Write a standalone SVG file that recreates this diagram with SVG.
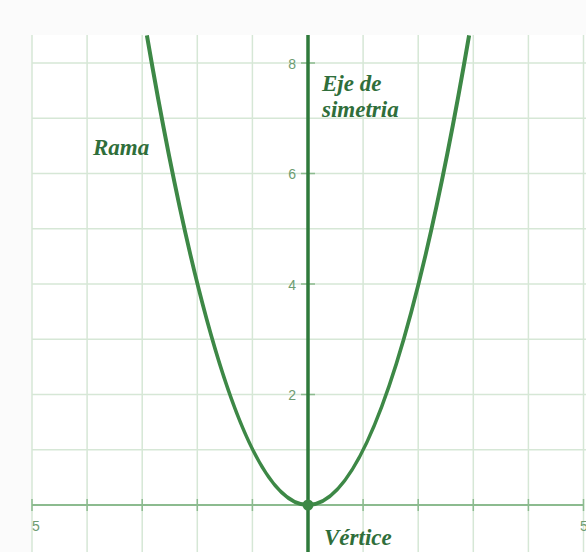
<svg xmlns="http://www.w3.org/2000/svg" width="586" height="552" viewBox="0 0 586 552">
<defs>
<style>
.grid{stroke:#d6e7d6;stroke-width:1.5;fill:none}
.xaxis{stroke:#8cbb8f;stroke-width:2;fill:none}
.yaxis{stroke:#2f7a3b;stroke-width:3.5;fill:none}
.tick{stroke:#8cbb8f;stroke-width:1.5}
.curve{stroke:#3d8846;stroke-width:4;fill:none}
.num{font-family:"Liberation Sans",Arial,sans-serif;font-size:14px;fill:#6d9c71}
.lbl{font-family:"Liberation Serif","Times New Roman",serif;font-size:23px;font-weight:bold;font-style:italic;fill:#2f6e3a}
</style>
<clipPath id="plot"><rect x="32" y="35" width="554" height="517"/></clipPath>
</defs>
<rect x="0" y="0" width="586" height="552" fill="#fbfbfb"/>
<rect x="32" y="35" width="554" height="517" fill="#ffffff"/>
<g id="grid">
<path class="grid" d="M32,35V552M87.1,35V552M142.2,35V552M197.3,35V552M252.4,35V552M363.1,35V552M418.2,35V552M473.3,35V552M528.4,35V552M583.5,35V552"/>
<path class="grid" d="M32,449.75H586M32,394.5H586M32,339.25H586M32,284H586M32,228.75H586M32,173.5H586M32,118.25H586M32,63H586"/>
</g>
<g id="axes">
<path class="xaxis" d="M32,505H584"/>
<path class="tick" d="M32,499V511M87.1,499V511M142.2,499V511M197.3,499V511M252.4,499V511M363.1,499V511M418.2,499V511M473.3,499V511M528.4,499V511M583.5,499V511"/>
<path class="tick" d="M301,63H315M301,173.5H315M301,284H315M301,394.5H315"/>
<path class="yaxis" d="M308,35V552"/>
</g>
<g id="ticklabels">
<text class="num" x="296" y="69" text-anchor="end">8</text>
<text class="num" x="296" y="179" text-anchor="end">6</text>
<text class="num" x="296" y="290" text-anchor="end">4</text>
<text class="num" x="296" y="400" text-anchor="end">2</text>
<text class="num" x="32" y="531">5</text>
<text class="num" x="580" y="531">5</text>
</g>
<g id="connectors">
<path class="curve" clip-path="url(#plot)" d="M146.9,35.4 Q308,974.6 469.1,35.4"/>
</g>
<g id="vertex">
<circle cx="308" cy="505" r="5.5" fill="#3d8846"/>
</g>
<g id="eje">
<text class="lbl" x="322" y="91">Eje de</text>
<text class="lbl" x="322" y="117">simetria</text>
</g>
<g id="rama">
<text class="lbl" x="93" y="155">Rama</text>
</g>
<g id="vertice">
<text class="lbl" x="324" y="545">Vértice</text>
</g>
</svg>
